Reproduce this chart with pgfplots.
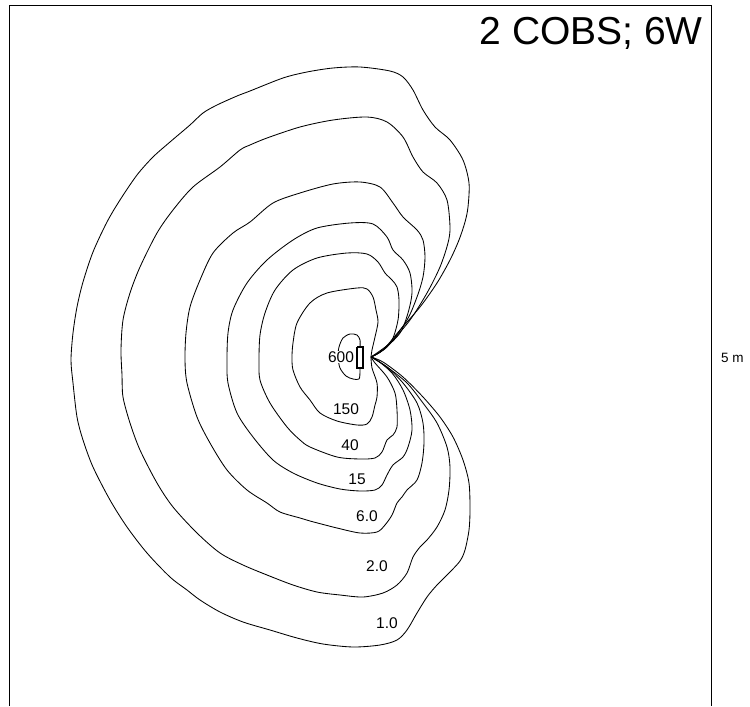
\documentclass[border=0pt]{standalone}
\usepackage{fontspec}
\setmainfont{Liberation Sans}
\usepackage{pgfplots}
\pgfplotsset{compat=1.18}
\begin{document}
\begin{tikzpicture}
\begin{axis}[scale only axis, width=750pt, height=706pt,
  xmin=0, xmax=750, ymin=0, ymax=706, y dir=reverse,
  hide axis, clip=false,
  every axis plot/.append style={black, line width=0.85pt}]
\addplot[draw=none] coordinates {(0,0) (750,706)};
% frame
\addplot[line width=1pt, sharp plot] coordinates {(9,706) (9,5.5) (711.5,5.5) (711.5,706)};
% 1.0
\addplot[smooth, tension=0.5] coordinates {
(371,357) (383,350) (400,330) (420,307) (437,283) (450,260) (459,240) (465,222) (468,207)
(469,183) (463,160) (450,140) (435,127) (423,110) (413,90) (403,77) (390,71)
(360,67) (333,68) (307,72) (283,78) (250,91) (237,96) (217,105) (203,113) (190,125)
(170,142) (153,157) (137,175) (120,200) (107,222) (93,252) (83,282) (77,307) (73,333) (71,360)
(73,383) (77,417) (83,440) (93,467) (110,500) (127,527) (147,553) (170,577) (187,590) (200,600)
(220,612) (243,622) (270,630) (297,638) (323,644) (353,647) (380,645) (397,640) (407,630)
(417,613) (427,597) (437,585) (450,572) (460,561) (465,550) (469,530) (470,510) (469,483)
(463,460) (453,437) (440,417) (423,397) (403,377) (383,362) (371,357)};
% 2.0
\addplot[smooth, tension=0.5] coordinates {
(371,357) (390,343) (410,320) (427,293) (440,267) (448,243) (450,227) (447,200) (437,183)
(423,172) (413,157) (403,137) (387,122) (367,117) (333,120) (300,127) (267,138)
(250,145) (240,150) (220,167) (193,187) (173,210) (157,233) (140,267) (130,293) (123,320)
(121,350) (122,375) (123,397) (130,423) (140,450) (157,483) (173,507) (197,533) (220,553)
(243,565) (267,575) (293,585) (317,592) (340,595) (363,597) (383,593) (397,585) (407,573)
(413,557) (420,547) (427,540) (437,527) (445,510) (449,490) (450,467) (447,447) (437,423)
(423,403) (407,383) (387,367) (371,357)};
% 6.0
\addplot[smooth, tension=0.5] coordinates {
(371,357) (387,347) (407,320) (417,297) (423,277) (425,257) (423,240) (417,230) (403,217)
(393,203) (380,187) (360,182) (333,184) (300,193) (273,203) (250,222) (233,233) (213,253) (200,280)
(190,307) (186,333) (185,360) (187,383) (197,417) (210,443) (227,470) (247,490) (267,503)
(280,512) (300,518) (310,521) (337,528) (360,533) (377,532) (385,525) (392,515) (397,503)
(402,497) (407,490) (417,480) (422,463) (424,443) (423,423) (417,403) (403,383) (387,367) (371,357)};
% 15
\addplot[smooth, tension=0.5] coordinates {
(371,357) (383,350) (400,333) (408,313) (412,293) (410,273) (403,260) (393,250) (387,237)
(373,224) (350,223) (317,228) (293,240) (267,260) (247,283) (233,310) (228,333)
(227,360) (228,383) (237,413) (253,437) (273,460) (293,473) (317,483) (340,489) (360,491)
(375,490) (382,485) (387,475) (393,465) (403,457) (408,447) (412,430) (410,410) (403,390)
(392,373) (377,360) (371,357)};
% 40
\addplot[smooth, tension=0.5] coordinates {
(371,357) (380,352) (392,340) (398,320) (399,300) (397,287) (392,280) (385,273) (378,262)
(367,254) (347,253) (317,258) (293,270) (275,290) (265,313) (260,335) (259,360) (260,380)
(270,403) (287,427) (300,440) (310,447) (337,457) (360,459) (375,458) (382,452) (387,440)
(393,435) (397,427) (397,410) (395,393) (387,377) (375,363) (371,357)};
% 150
\addplot[smooth, tension=0.5] coordinates {
(371,357) (372,350) (375,337) (378,322) (376,310) (373,297) (367,289) (357,288) (327,293)
(310,303) (297,323) (293,343) (292,357) (293,370) (300,387) (310,400) (320,413) (337,421)
(357,425) (367,424) (372,417) (375,405) (377,397) (377,383) (372,368) (371,357)};
% 600
\addplot[smooth, tension=0.5] coordinates {
(360,347) (360,340) (357,335) (350,334) (343,338) (339,347) (338,357) (340,368) (346,376)
(353,379) (359,379) (360,372) (360,368)};
% source
\addplot[line width=1.4pt, fill=white, sharp plot] coordinates {(357,347) (363,347) (363,368) (357,368) (357,347)};
% labels
\begin{scope}[every node/.style={fill=white, inner sep=0.6pt, font=\fontsize{15.5}{16}\selectfont}]
\node at (axis cs:341,357) {600};
\node at (axis cs:346,409) {150};
\node at (axis cs:350,445.5) {40};
\node at (axis cs:357,479.5) {15};
\node at (axis cs:367,516.5) {6.0};
\node at (axis cs:377,566) {2.0};
\node at (axis cs:387,623) {1.0};
\end{scope}
\node[anchor=base east, inner sep=0pt, font=\fontsize{39}{40}\selectfont] at (axis cs:703,45) {2 COBS; 6W};
\node[anchor=base west, inner sep=0pt, font=\fontsize{13.5}{14}\selectfont] at (axis cs:721,362.5) {5 m};
\end{axis}
\end{tikzpicture}
\end{document}
